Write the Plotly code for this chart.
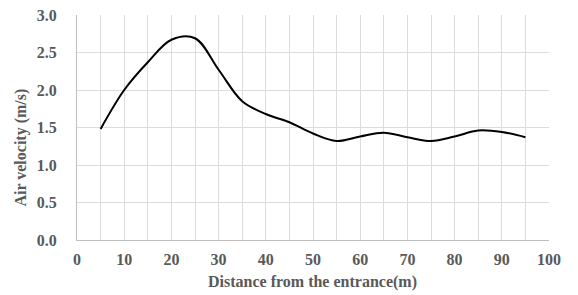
import plotly.graph_objects as go

distance = [5, 10, 15, 20, 25, 30, 35, 40, 45, 50, 55, 60, 65, 70, 75, 80, 85, 90, 95]
velocity = [1.48, 2.00, 2.37, 2.67, 2.69, 2.27, 1.85, 1.68, 1.57, 1.42, 1.32, 1.38, 1.43, 1.37, 1.32, 1.38, 1.46, 1.44, 1.37]

x_grid = list(range(0, 101, 5))
x_labels = [str(v) if v % 10 == 0 else "" for v in x_grid]

fig = go.Figure()
fig.add_trace(go.Scatter(
    x=distance, y=velocity, mode="lines",
    line=dict(color="black", width=2, shape="spline", smoothing=1.0),
    showlegend=False,
))

font_family = "Liberation Serif, Times New Roman, serif"
tick_font = dict(family=font_family, size=16, color="#595959", weight="bold")
title_font = dict(family=font_family, size=16, color="#595959")
fig.update_layout(
    width=578, height=295,
    margin=dict(l=77, r=29, t=15, b=55),
    paper_bgcolor="white", plot_bgcolor="white",
    font=dict(family=font_family, color="#595959", size=16),
    xaxis=dict(
        range=[0, 100], tickmode="array", tickvals=x_grid, ticktext=x_labels,
        showgrid=True, gridcolor="#dcdcdc", gridwidth=1,
        showline=True, linecolor="#bfbfbf", linewidth=1,
        ticks="", zeroline=False, ticklabelstandoff=5, automargin=False,
        tickfont=tick_font,
    ),
    yaxis=dict(
        range=[0, 3.0], dtick=0.5, tickformat=".1f",
        showgrid=True, gridcolor="#dcdcdc", gridwidth=1,
        showline=True, linecolor="#bfbfbf", linewidth=1,
        ticks="", zeroline=False, ticklabelstandoff=16, automargin=False,
        tickfont=tick_font,
    ),
    annotations=[
        dict(text="<b>Air velocity (m/s)</b>", textangle=-90,
             xref="paper", yref="paper", x=-0.1176, y=0.413,
             xanchor="center", yanchor="middle", showarrow=False, font=title_font),
        dict(text="<b>Distance from the entrance(m)</b>",
             xref="paper", yref="paper", x=0.499, y=-0.1867,
             xanchor="center", yanchor="middle", showarrow=False, font=title_font),
    ],
)

fig.write_html("out.html")
